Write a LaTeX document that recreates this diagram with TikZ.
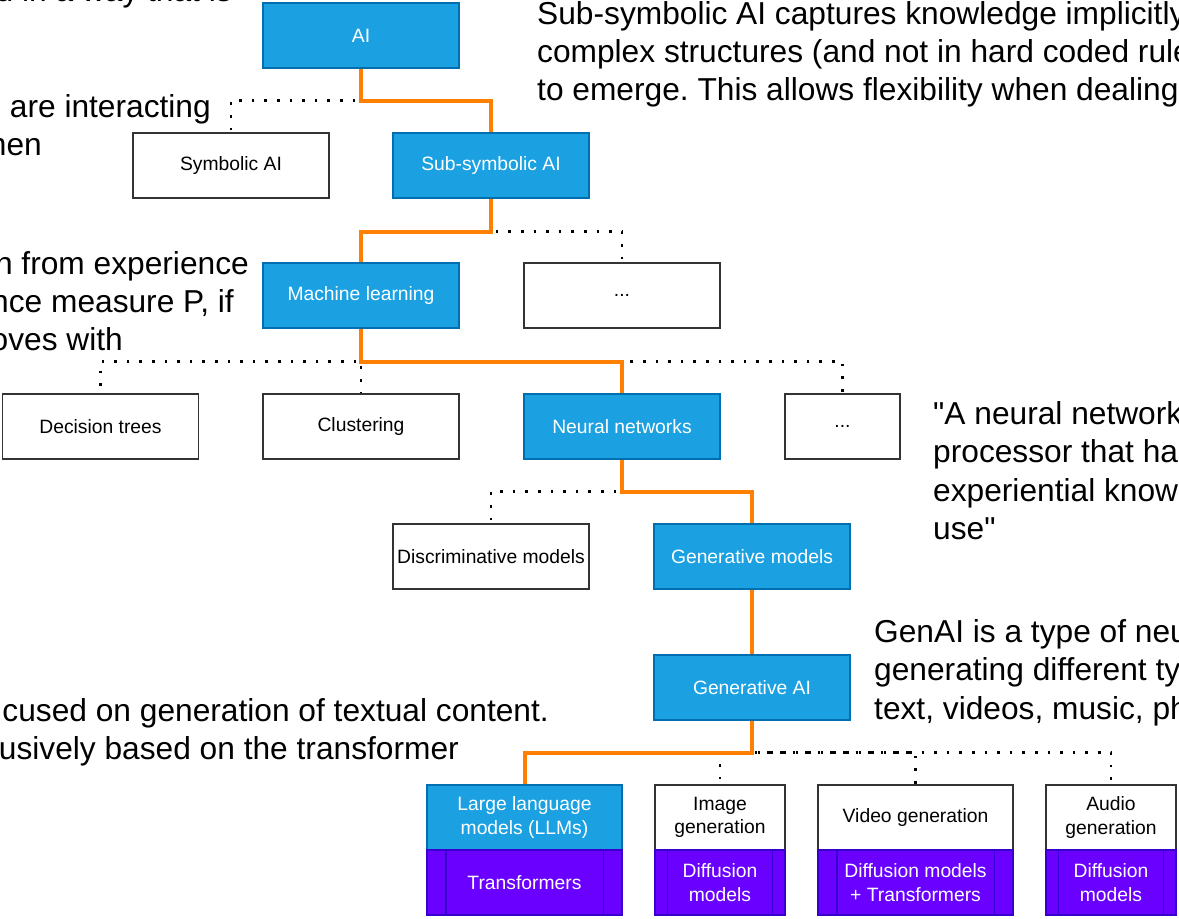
\documentclass[tikz,border=0pt]{standalone}
\usepackage{fontspec}
\setmainfont{Liberation Sans}[Ligatures=TeXOff]
\usetikzlibrary{calc}
\frenchspacing
\definecolor{bluefill}{HTML}{1BA1E2}
\definecolor{blueline}{HTML}{006EAF}
\definecolor{purplefill}{HTML}{6A00FF}
\definecolor{purpleline}{HTML}{3700CC}
\definecolor{orangeline}{HTML}{FF8000}
\definecolor{boxline}{HTML}{333333}
\tikzset{
 box/.style={rectangle, minimum width=196pt, minimum height=65pt, inner sep=0pt, line width=1.3pt, align=center, font=\fontsize{19.3}{23.2}\selectfont},
 bluebox/.style={box, fill=bluefill, draw=blueline, text=white},
 whitebox/.style={box, fill=white, draw=boxline, text=black},
 purplebox/.style={box, fill=purplefill, draw=purpleline, text=white},
 mainlink/.style={draw=orangeline, line width=4pt},
 sidelink/.style={draw=black, line width=2.6pt, dash pattern=on 2.6pt off 10pt},
 innerline/.style={draw=purpleline, line width=1.3pt},
 note/.style={inner sep=0pt, font=\fontsize{31.7}{38}\selectfont},
}
\begin{document}
\begin{tikzpicture}[x=1pt,y=-1pt]
\useasboundingbox (0,0) rectangle (1179,919);
\clip (0,0) rectangle (1179,919);
\fill[white] (0,0) rectangle (1179,919);

% boxes
\node[bluebox] (ai) at (361,35.5) {AI};
\node[whitebox] (sym) at (231,165.5) {Symbolic AI};
\node[bluebox] (sub) at (491,165.5) {Sub-symbolic AI};
\node[bluebox] (ml) at (361,295.5) {Machine learning};
\node[whitebox] (mldots) at (622,295.5) {...};
\node[whitebox] (dt) at (100.5,426.5) {Decision trees};
\node[whitebox] (cl) at (361,426.5) {Clustering};
\node[bluebox] (nn) at (622,426.5) {Neural networks};
\node[whitebox, minimum width=115pt] (nndots) at (842.5,426.5) {...};
\node[whitebox] (disc) at (491,556.5) {Discriminative models};
\node[bluebox] (genm) at (752,556.5) {Generative models};
\node[bluebox] (genai) at (752,687.5) {Generative AI};
\node[bluebox, minimum width=195pt] (llm) at (524.5,817.5) {Large language\\models (LLMs)};
\node[purplebox, minimum width=195pt] (trf) at (524.5,882.5) {Transformers};
\node[whitebox, minimum width=130pt] (img) at (720,817.5) {Image\\generation};
\node[purplebox, minimum width=130pt] (imgm) at (720,882.5) {Diffusion\\models};
\node[whitebox, minimum width=195pt] (vid) at (915.5,817.5) {Video generation};
\node[purplebox, minimum width=195pt] (vidm) at (915.5,882.5) {Diffusion models\\+ Transformers};
\node[whitebox, minimum width=130pt] (aud) at (1111,817.5) {Audio\\generation};
\node[purplebox, minimum width=130pt] (audm) at (1111,882.5) {Diffusion\\models};

\foreach \n/\o in {trf/19.5, imgm/13, vidm/19.5, audm/13} {
  \draw[innerline] ($(\n.north west)+(\o,0)$) -- ($(\n.south west)+(\o,0)$);
  \draw[innerline] ($(\n.north east)+(-\o,0)$) -- ($(\n.south east)+(-\o,0)$);
}

% connectors
\draw[sidelink] (ai.south) -- ++(0,32) -| (sym.north);
\draw[mainlink] (ai.south) -- ++(0,32) -| (sub.north);
\draw[sidelink] (sub.south) -- ++(0,33) -| (mldots.north);
\draw[mainlink] (sub.south) -- ++(0,33) -| (ml.north);
\draw[sidelink] (ml.south) -- ++(0,33) -| (dt.north);
\draw[sidelink] (ml.south) -- (cl.north);
\draw[sidelink] (ml.south) -- ++(0,33) -| (nndots.north);
\draw[mainlink] (ml.south) -- ++(0,33) -| (nn.north);
\draw[sidelink] (nn.south) -- ++(0,32) -| (disc.north);
\draw[mainlink] (nn.south) -- ++(0,32) -| (genm.north);
\draw[mainlink] (genm.south) -- (genai.north);
\draw[sidelink] (genai.south) -- ++(0,32) -| (img.north);
\draw[sidelink, dash phase=3pt] (genai.south) -- ++(0,32) -| (vid.north);
\draw[sidelink] (genai.south) -- ++(0,32) -| (aud.north);
\draw[mainlink] (genai.south) -- ++(0,32) -| (llm.north);

% annotations (cut by the picture edge)
\node[note, anchor=base east] (n1) at (232,1.5) {d in a way that is};
\node[note, anchor=base east] (n2) at (211,117) {are interacting};
\node[note, anchor=base east] (n3) at (42,155) {hen};
\node[note, anchor=base east] (n4) at (249,274) {n from experience};
\node[note, anchor=base east] (n5) at (234,312) {nce measure P, if};
\node[note, anchor=base east] (n6) at (123,350) {oves with};
\node[note, anchor=base east] (n7) at (549,721) {cused on generation of textual content.};
\node[note, anchor=base east] (n8) at (459,759) {usively based on the transformer};
\node[note, anchor=base west] (r1) at (537,24) {Sub-symbolic AI captures knowledge implicitly};
\node[note, anchor=base west] (r2) at (537,62) {complex structures (and not in hard coded rule};
\node[note, anchor=base west] (r3) at (537,100) {to emerge. This allows flexibility when dealing};
\node[note, anchor=base west] (r4) at (933,424) {"A neural network};
\node[note, anchor=base west] (r5) at (933,462.5) {processor that ha};
\node[note, anchor=base west] (r6) at (933,501) {experiential know};
\node[note, anchor=base west] (r7) at (933,539.5) {use"};
\node[note, anchor=base west] (r8) at (874,642) {GenAI is a type of neu};
\node[note, anchor=base west] (r9) at (874,680) {generating different ty};
\node[note, anchor=base west] (r10) at (874,719) {text, videos, music, ph};
\end{tikzpicture}
\end{document}
